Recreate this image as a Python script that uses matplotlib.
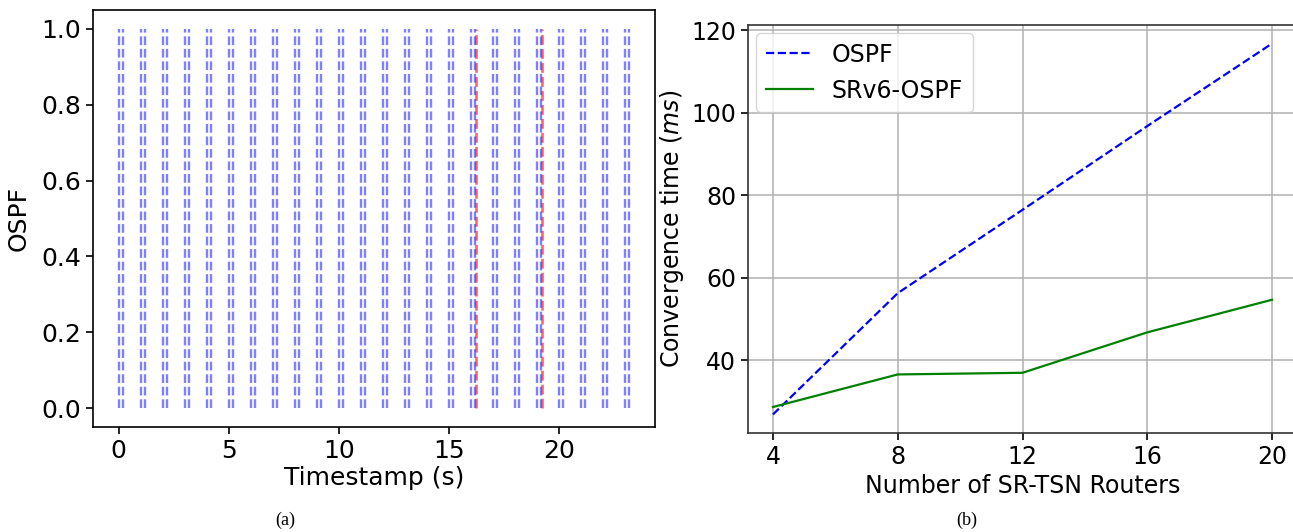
import numpy as np
import matplotlib
matplotlib.use("Agg")
import matplotlib.pyplot as plt

# left panel: hello timestamps (pairs) and the two failure events
pair_starts = list(range(0, 24))
pair_offset = 0.18
failure_times = [16.2, 19.2]

# right panel
routers = [4, 8, 12, 16, 20]
ospf_ms = [26.9, 56.3, 76.5, 96.8, 116.8]
srv6_ms = [28.7, 36.6, 37.0, 46.8, 54.7]

W, H = 1293, 532
fig = plt.figure(figsize=(W / 100, H / 100), dpi=100)

ax1 = fig.add_axes([93 / W, (H - 427) / H, (655 - 93) / W, (427 - 10) / H])
ax2 = fig.add_axes([748 / W, (H - 433) / H, (1297 - 748) / W, (433 - 25) / H])

# ---- (a) ----
for t in pair_starts:
    for x in (t, t + pair_offset):
        ax1.vlines(x, 0, 1, colors="blue", linestyles="dashed", linewidth=1.7, alpha=0.5)
for t in failure_times:
    ax1.vlines(t + 0.02, 0, 1, colors="red", linestyles="dashed", linewidth=1.9, alpha=0.6)

ax1.set_xticks([0, 5, 10, 15, 20])
ax1.set_yticks([0.0, 0.2, 0.4, 0.6, 0.8, 1.0])
ax1.tick_params(labelsize=18, length=5, width=1.2)
ax1.set_xlabel("Timestamp (s)", fontsize=18, labelpad=2)
ax1.set_ylabel("OSPF", fontsize=18, labelpad=8)
for s in ax1.spines.values():
    s.set_linewidth(1.2)

# ---- (b) ----
ax2.plot(routers, ospf_ms, linestyle="--", color="blue", linewidth=1.6, label="OSPF")
ax2.plot(routers, srv6_ms, linestyle="-", color="green", linewidth=1.6, label="SRv6-OSPF")
ax2.grid(True, color="#b0b0b0", linewidth=1.1)
ax2.set_xticks(routers)
ax2.set_yticks([40, 60, 80, 100, 120])
ax2.tick_params(labelsize=17, length=5, width=1.2)
ax2.set_xlabel("Number of SR-TSN Routers", fontsize=17, labelpad=4)
ax2.set_ylabel("Convergence time ($ms$)", fontsize=17, labelpad=4)
for s in ax2.spines.values():
    s.set_linewidth(1.2)
    s.set_color("#333333")
ax2.legend(loc="upper left", fontsize=17, handlelength=2.0, borderaxespad=0.35)

fig.text(285 / W, 1 - 520 / H, "(a)", family="Liberation Serif", fontsize=13,
         ha="center", va="center")
fig.text(967 / W, 1 - 520 / H, "(b)", family="Liberation Serif", fontsize=13,
         ha="center", va="center")

fig.savefig("out.png", dpi=100)
